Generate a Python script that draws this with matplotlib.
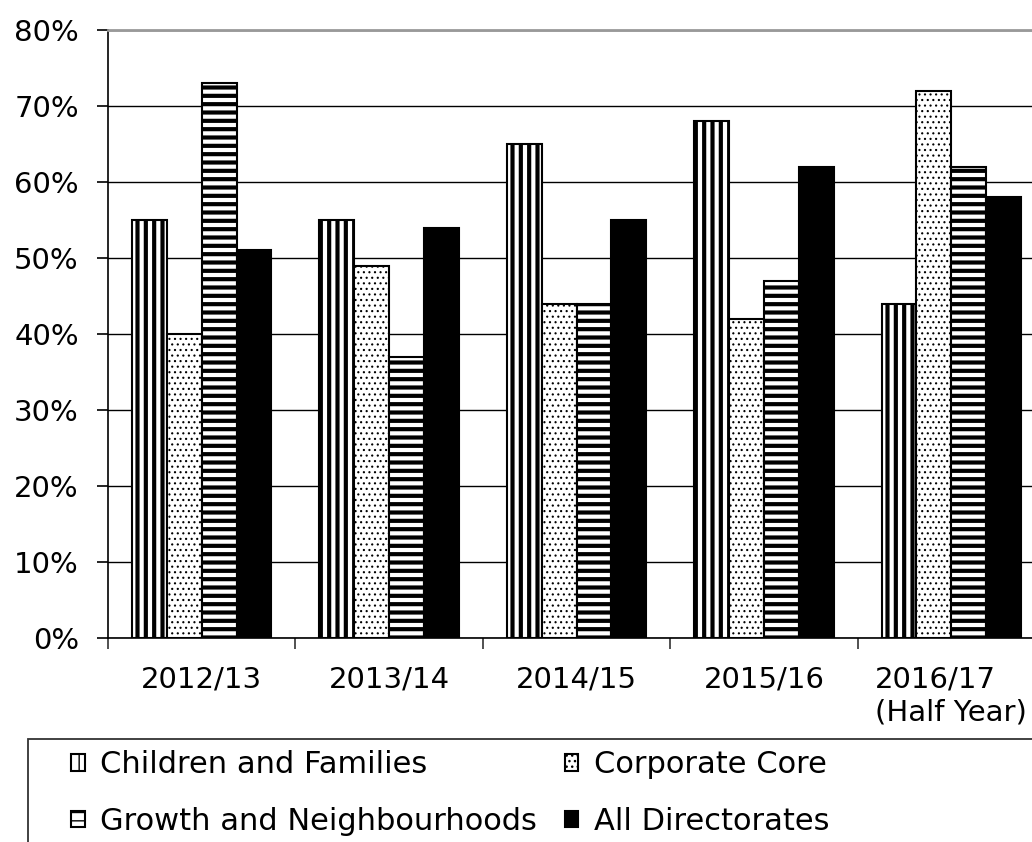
import numpy as np
import matplotlib.pyplot as plt
from matplotlib.patches import Rectangle

plt.rcParams['font.family'] = ['DejaVu Sans']

years = ['2012/13', '2013/14', '2014/15', '2015/16', '2016/17\n(Half Year)']
children = [55, 55, 65, 68, 44]
corporate = [40, 49, 44, 42, 72]
growth = [73, 37, 44, 47, 62]
all_dir = [51, 54, 55, 62, 58]
names = ['Children and Families', 'Corporate Core', 'Growth and Neighbourhoods', 'All Directorates']

# hatch, fill, hatch line width
styles = [('||', 'white', 3.0), ('...', 'white', 0.8), ('--', 'white', 3.0), (None, 'black', 1.0)]

fig = plt.figure(figsize=(10.32, 8.42), dpi=100)
ax = fig.add_axes([108 / 1032, 204 / 842, 937 / 1032, 608 / 842])

x = np.arange(len(years))
w = 0.186
bars = []
for i, (vals, (h, fc, hlw)) in enumerate(zip([children, corporate, growth, all_dir], styles)):
    with plt.rc_context({'hatch.linewidth': hlw, 'hatch.color': 'black'}):
        b = ax.bar(x + (i - 1.5) * w, vals, width=w, color=fc, edgecolor='black',
                   hatch=h, linewidth=1.5, label=names[i], zorder=3)
    bars.append(b)

ax.set_xlim(-0.5, len(years) - 0.5)
ax.set_ylim(0, 80)
ax.set_yticks(np.arange(0, 81, 10))
ax.set_yticklabels([f'{v}%' for v in range(0, 81, 10)], fontsize=21)
ax.yaxis.grid(True, color='black', linewidth=1.0, zorder=0)
ax.set_axisbelow(True)

ax.set_xticks(x)
ax.set_xticklabels(years, fontsize=21, multialignment='left')
ax.tick_params(axis='x', length=0, pad=20)
ax.set_xticks(np.arange(-0.5, len(years), 1), minor=True)
ax.tick_params(axis='x', which='minor', length=8, width=1.2, color='#333333')
ax.tick_params(axis='y', length=8, width=1.2, pad=13, color='black')

ax.spines['right'].set_visible(False)
ax.spines['top'].set_color('#999999')
ax.spines['top'].set_linewidth(2)
ax.spines['left'].set_linewidth(1.2)
ax.spines['bottom'].set_linewidth(1.2)

handles = [bars[0], bars[2], bars[1], bars[3]]
labels = [names[0], names[2], names[1], names[3]]
fig.legend(handles, labels, loc='upper left', bbox_to_anchor=(56 / 1032, 1 - 735 / 842),
           ncol=2, frameon=False, fontsize=22, handlelength=0.45, handleheight=0.45,
           handletextpad=0.5, columnspacing=0.9, labelspacing=0.9, borderpad=0)

fig.add_artist(Rectangle((28 / 1032, -0.05), 1.2, (842 - 739) / 842 + 0.05,
                         transform=fig.transFigure, fill=False, linewidth=1.3, edgecolor='#333333'))

fig.savefig('out.png', dpi=100)
